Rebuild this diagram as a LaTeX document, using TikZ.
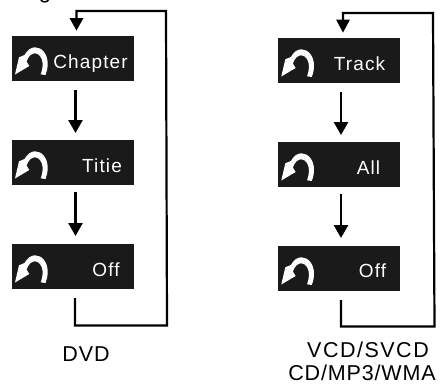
\documentclass[tikz,border=0pt]{standalone}
\usepackage{fontspec}
\setmainfont{Liberation Sans}
\newfontfamily\boxfont[LetterSpace=6]{Liberation Sans}
\newfontfamily\capfont[LetterSpace=4]{Liberation Sans}
\newfontfamily\capwide[LetterSpace=7]{Liberation Sans}
\usetikzlibrary{arrows.meta}
\definecolor{boxgray}{HTML}{1A1A1A}
\tikzset{
  menubox/.style={fill=boxgray,draw=none,minimum width=122pt,minimum height=45pt,inner sep=0pt,outer sep=0pt},
  menulabel/.style={text=white,font=\fontsize{19}{19}\selectfont\boxfont,inner sep=0pt,anchor=base},
  capt/.style={font=\fontsize{21.5}{24}\selectfont\capfont,inner sep=0pt,anchor=base},
  flow/.style={line width=2.5pt,-{Triangle[length=13pt,width=14pt]}},
  back/.style={line width=2.2pt,line join=miter},
  uturn/.pic={
    % origin: top-left corner of a menu box
    \fill[white] (33.5,39) .. controls (35,35) and (35.8,31) .. (35.7,27)
      .. controls (35.4,18) and (30,11.3) .. (23,11.3)
      .. controls (19,11.3) and (15.5,14) .. (12.5,19)
      -- (7,21.3) -- (3,38.5) -- (17.3,30) -- (14.6,25.5)
      .. controls (16.5,20) and (19.5,17.3) .. (23,17.3)
      .. controls (27,17.3) and (30.3,22) .. (30.6,27)
      .. controls (30.8,31) and (30,35) .. (28.7,38.3) -- cycle;
  }
}
\begin{document}
\begin{tikzpicture}[x=1pt,y=-1pt]
\useasboundingbox (0,0) rectangle (445,384);
\path[clip] (0,0) rectangle (445,384);
\node[font=\fontsize{22}{22}\selectfont,anchor=base,inner sep=0pt] (frag) at (45,-2) {g};
% DVD
\node[menubox] (a1) at (73,58.5) {};
\node[menubox] (a2) at (73,162.5) {};
\node[menubox] (a3) at (73,266.7) {};
\node[menulabel] (a1t) at (90.5,68) {Chapter};
\node[menulabel] (a2t) at (102,172) {Titie};
\node[menulabel] (a3t) at (106,276) {Off};
\node[capt] (dvd) at (86,361) {DVD};
\draw[flow] (75.5,90) -- (75.5,133);
\draw[flow] (75.5,192) -- (75.5,236);
\draw[back] (75,298) -- (75,325.5) -- (167,325.5) -- (166,11) -- (76.5,11) -- (76.5,20);
\fill (69.5,18) -- (83.5,18) -- (76.5,30.5) -- cycle;
\foreach \y in {36,140,244} \path (12,\y) pic {uturn};
% Right
\node[menubox] (b1) at (339.3,60.5) {};
\node[menubox] (b2) at (339.3,164.5) {};
\node[menubox] (b3) at (339.3,268.5) {};
\node[menulabel] (b1t) at (359.5,70) {Track};
\node[menulabel] (b2t) at (368.5,174) {All};
\node[menulabel] (b3t) at (372.5,277.5) {Off};
\node[capt,font=\fontsize{21.5}{24}\selectfont\capwide] (c1) at (368,357) {VCD/SVCD};
\node[capt] (c2) at (362,380) {CD/MP3/WMA};
\draw[flow] (341,92) -- (341,135);
\draw[flow] (341,194) -- (341,238);
\draw[back] (341,300) -- (341,326.5) -- (434.5,326.5) -- (433,13) -- (343,13) -- (343,22);
\fill (336,19.5) -- (350,19.5) -- (343,32.5) -- cycle;
\foreach \y in {38,142,246} \path (278.3,\y) pic {uturn};
\end{tikzpicture}
\end{document}
